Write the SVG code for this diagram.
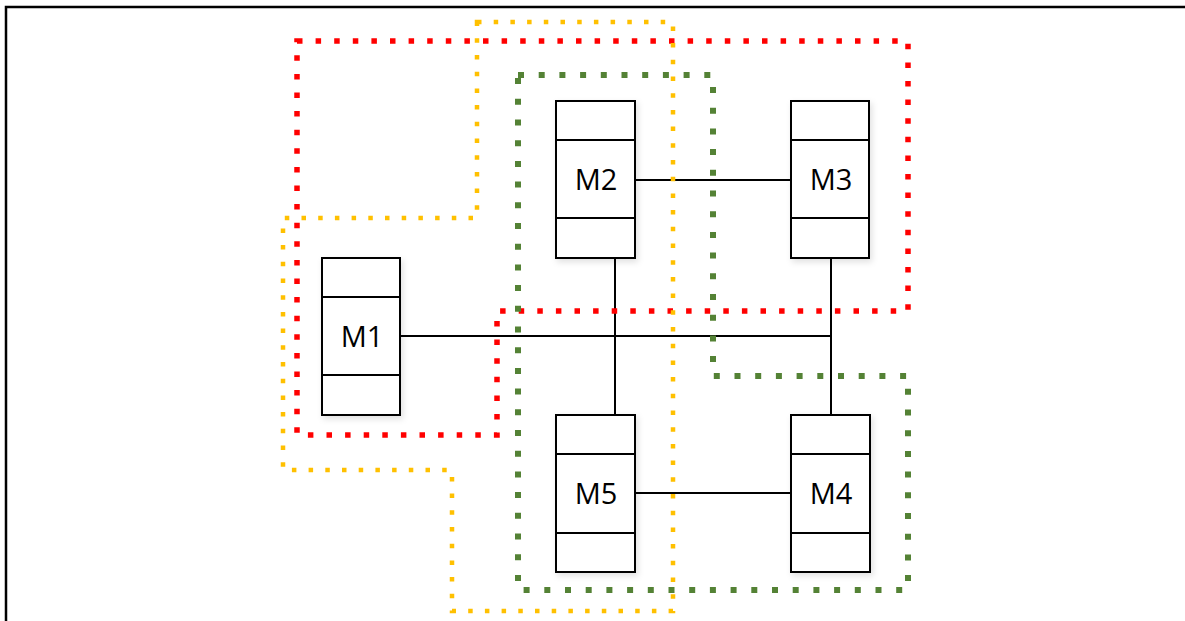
<svg xmlns="http://www.w3.org/2000/svg" width="1185" height="621" viewBox="0 0 1185 621">
<style>
.box{fill:#fff;stroke:#000;stroke-width:2}
.div{stroke:#000;stroke-width:2}
.lbl{font-family:"Open Sans","Noto Sans",sans-serif;font-size:29px;fill:#000;text-anchor:middle}
.conn{stroke:#000;stroke-width:2;fill:none}
.red{fill:none;stroke:#ff0000;stroke-width:5.5;stroke-dasharray:5.5 13.1}
.yel{fill:none;stroke:#ffc000;stroke-width:4.5;stroke-dasharray:4.5 12.2}
.grn{fill:none;stroke:#548235;stroke-width:6;stroke-dasharray:6 14.7}
</style>
<defs>
<filter id="sh" x="-20%" y="-20%" width="140%" height="140%">
<feDropShadow dx="2" dy="3" stdDeviation="3" flood-color="#000" flood-opacity="0.12"/>
</filter>
</defs>
<rect x="0" y="0" width="1185" height="621" fill="#fff"/>
<path d="M6,621 V7 H1185" fill="none" stroke="#000" stroke-width="2.5"/>
<g id="connectors">
<line class="conn" x1="635" y1="180" x2="791" y2="180"/>
<line class="conn" x1="635" y1="493" x2="791" y2="493"/>
<line class="conn" x1="400" y1="336" x2="831" y2="336"/>
<line class="conn" x1="831" y1="258" x2="831" y2="415"/>
<line class="conn" x1="615" y1="258" x2="615" y2="415"/>
</g>
<g id="M1">
<rect class="box" x="322" y="258" width="78" height="157" filter="url(#sh)"/>
<line class="div" x1="322" y1="297" x2="400" y2="297"/>
<line class="div" x1="322" y1="375" x2="400" y2="375"/>
<text class="lbl" x="362" y="347">M1</text>
</g>
<g id="M2">
<rect class="box" x="556" y="101" width="79" height="157" filter="url(#sh)"/>
<line class="div" x1="556" y1="140" x2="635" y2="140"/>
<line class="div" x1="556" y1="218" x2="635" y2="218"/>
<text class="lbl" x="596" y="190">M2</text>
</g>
<g id="M3">
<rect class="box" x="791" y="101" width="78" height="157" filter="url(#sh)"/>
<line class="div" x1="791" y1="140" x2="869" y2="140"/>
<line class="div" x1="791" y1="218" x2="869" y2="218"/>
<text class="lbl" x="831" y="190">M3</text>
</g>
<g id="M5">
<rect class="box" x="556" y="415" width="79" height="157" filter="url(#sh)"/>
<line class="div" x1="556" y1="454" x2="635" y2="454"/>
<line class="div" x1="556" y1="533" x2="635" y2="533"/>
<text class="lbl" x="596" y="504">M5</text>
</g>
<g id="M4">
<rect class="box" x="791" y="415" width="79" height="157" filter="url(#sh)"/>
<line class="div" x1="791" y1="454" x2="870" y2="454"/>
<line class="div" x1="791" y1="533" x2="870" y2="533"/>
<text class="lbl" x="831" y="504">M4</text>
</g>
<g id="regions">
<path class="red" d="M297,41 H908 V311 H497 V435 H297 Z"/>
<path class="yel" d="M477,22 H673 V611 H452 V470 H283 V218 H477 Z"/>
<path class="grn" d="M518,75 H713 V376 H908 V590 H518 Z"/>
</g>
</svg>
